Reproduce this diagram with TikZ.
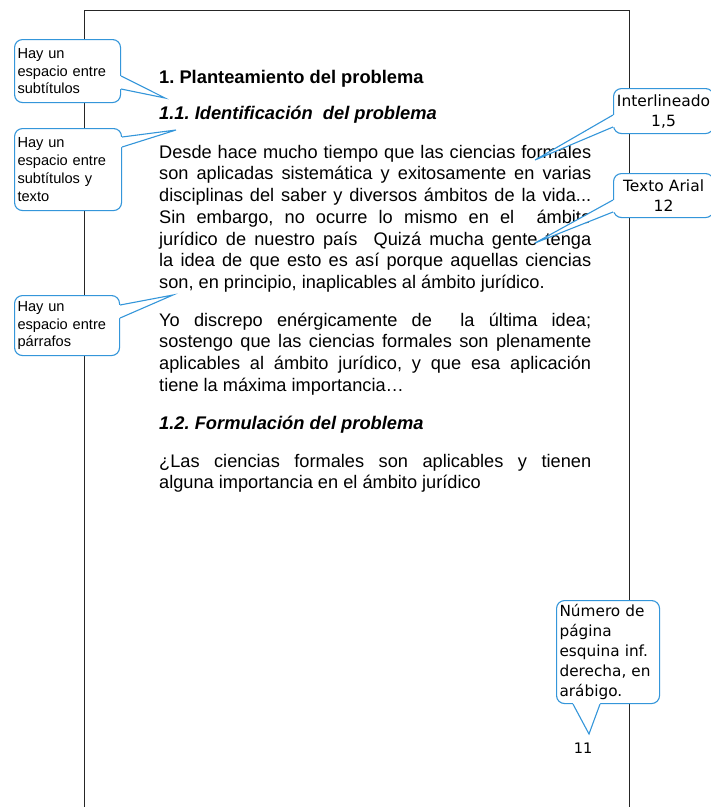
\documentclass[tikz,border=0pt]{standalone}
\usepackage{fontspec}
\setmainfont{Liberation Sans}
\newfontfamily\notefont{DejaVu Sans}
\usetikzlibrary{calc}
\definecolor{callblue}{RGB}{52,150,218}
\newcommand\jline[1]{\makebox[432pt][s]{#1}}
\newcommand\topstrut{\rule{0pt}{17pt}}
\frenchspacing
\begin{document}
\begin{tikzpicture}[x=1pt,y=-1pt,
  bodytext/.style={anchor=north west, inner sep=0pt, align=left, font=\fontsize{18.2}{21.7}\selectfont},
  headtext/.style={anchor=base west, inner sep=0pt, font=\fontsize{18.3}{20}\selectfont\bfseries},
  pageline/.style={draw=black!85, line width=1pt},
  callbox/.style={draw=callblue, line width=1.1pt, fill=white, rounded corners=8pt, inner xsep=3pt, inner ysep=2pt},
  leftcall/.style={callbox, anchor=north west, align=left, font=\fontsize{14.6}{17.8}\selectfont},
  rightcall/.style={callbox, anchor=north west, align=center, font=\notefont\fontsize{15.5}{20}\selectfont},
  tailline/.style={draw=callblue, line width=1.1pt, line join=miter}]
\clip (0,0) rectangle (711,807);
\fill[white] (0,0) rectangle (711,807);
% page outline
\draw[pageline] (84,807) -- (84,10) -- (629,10) -- (629,807);
% headings and text
\node[headtext] (h1) at (159,83) {1. Planteamiento del problema};
\node[headtext, font=\fontsize{18.3}{20}\selectfont\bfseries\itshape] (h11) at (159,119) {1.1. Identificación\ \ del problema};
\node[bodytext] (p1) at (159,141) {\topstrut\jline{Desde hace mucho tiempo que las ciencias formales}\\
\jline{son aplicadas sistemática y exitosamente en varias}\\
\jline{disciplinas del saber y diversos ámbitos de la vida...}\\
\jline{Sin embargo, no ocurre lo mismo en el\ \ ámbito}\\
\jline{jurídico de nuestro país\ \ Quizá mucha gente tenga}\\
\jline{la idea de que esto es así porque aquellas ciencias}\\
son, en principio, inaplicables al ámbito jurídico.};
\node[bodytext] (p2) at (159,309) {\topstrut\jline{Yo discrepo enérgicamente de\ \ la última idea;}\\
\jline{sostengo que las ciencias formales son plenamente}\\
\jline{aplicables al ámbito jurídico, y que esa aplicación}\\
tiene la máxima importancia…};
\node[headtext, font=\fontsize{18.3}{20}\selectfont\bfseries\itshape] (h12) at (159,429) {1.2. Formulación del problema};
\node[bodytext] (p3) at (159,450) {\topstrut\jline{¿Las ciencias formales son aplicables y tienen}\\
alguna importancia en el ámbito jurídico};
\node[inner sep=0pt, font=\notefont\fontsize{14.5}{16}\selectfont] (pn) at (583,748) {11};
% left callouts
\node[leftcall, text width=100pt, minimum height=63pt] (c1) at (14,39) {Hay un\\espacio entre\\subtítulos};
\coordinate (t1) at (165,98);
\fill[white] ($(c1.east |- 0,76)+(-3,0)$) -- (c1.east |- 0,76) -- (t1) -- (c1.east |- 0,89) -- ($(c1.east |- 0,89)+(-3,0)$) -- cycle;
\draw[tailline] (c1.east |- 0,76) -- (t1) -- (c1.east |- 0,89);

\node[leftcall, text width=101pt, minimum height=82pt] (c2) at (14,128) {Hay un\\espacio entre\\subtítulos y\\texto};
\coordinate (t2) at (176,130);
\fill[white] ($(c2.east |- 0,137)+(-3,0)$) -- (c2.east |- 0,137) -- (t2) -- (c2.east |- 0,147) -- ($(c2.east |- 0,147)+(-3,0)$) -- cycle;
\draw[tailline] (c2.east |- 0,137) -- (t2) -- (c2.east |- 0,147);

\node[leftcall, text width=99pt, minimum height=60pt] (c3) at (14,295) {Hay un\\espacio entre\\párrafos};
\coordinate (t3) at (173,295);
\fill[white] ($(c3.east |- 0,305)+(-3,0)$) -- (c3.east |- 0,305) -- (t3) -- (c3.east |- 0,318) -- ($(c3.east |- 0,318)+(-3,0)$) -- cycle;
\draw[tailline] (c3.east |- 0,305) -- (t3) -- (c3.east |- 0,318);
% right callouts
\node[rightcall, text width=94pt, minimum height=45pt] (c4) at (613,88) {Interlineado\\1,5};
\coordinate (t4) at (535,160);
\fill[white] ($(c4.west |- 0,115)+(3,0)$) -- (c4.west |- 0,115) -- (t4) -- (c4.west |- 0,127) -- ($(c4.west |- 0,127)+(3,0)$) -- cycle;
\draw[tailline] (c4.west |- 0,115) -- (t4) -- (c4.west |- 0,127);

\node[rightcall, text width=94pt, minimum height=44pt] (c5) at (613,173) {Texto Arial\\12};
\coordinate (t5) at (535,243);
\fill[white] ($(c5.west |- 0,200)+(3,0)$) -- (c5.west |- 0,200) -- (t5) -- (c5.west |- 0,212) -- ($(c5.west |- 0,212)+(3,0)$) -- cycle;
\draw[tailline] (c5.west |- 0,200) -- (t5) -- (c5.west |- 0,212);

\node[rightcall, align=left, text width=97pt, minimum height=103pt, font=\notefont\fontsize{15.3}{20.2}\selectfont] (c6) at (556,600) {Número de\\página\\esquina inf.\\derecha, en\\arábigo.};
\coordinate (t6) at (589,734);
\fill[white] ($(573,0 |- c6.south)+(0,-3)$) -- (573,0 |- c6.south) -- (t6) -- (600,0 |- c6.south) -- ($(600,0 |- c6.south)+(0,-3)$) -- cycle;
\draw[tailline] (573,0 |- c6.south) -- (t6) -- (600,0 |- c6.south);
\end{tikzpicture}
\end{document}
